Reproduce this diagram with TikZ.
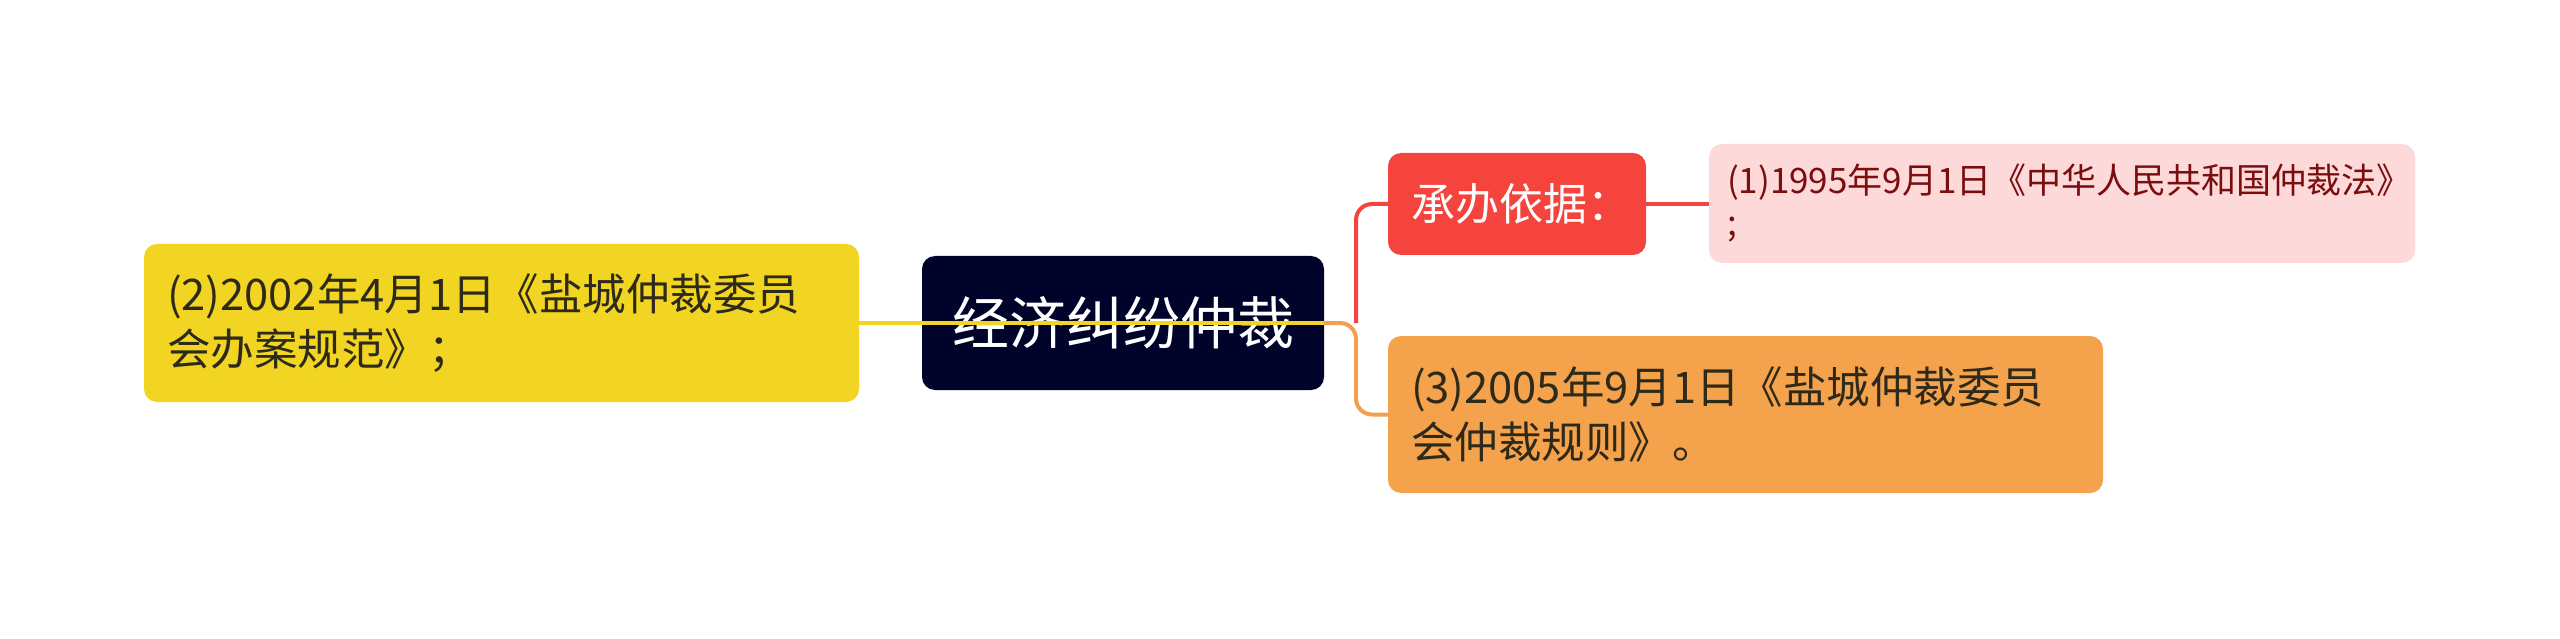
\documentclass[tikz,border=0pt]{standalone}
\usepackage{fontspec}
\setmainfont{Noto Sans CJK SC}
\definecolor{cyellow}{HTML}{F2D422}
\definecolor{cnavy}{HTML}{00032A}
\definecolor{cred}{HTML}{F5443E}
\definecolor{cpink}{HTML}{FDD9D9}
\definecolor{corange}{HTML}{F5A24C}
\definecolor{tdark}{HTML}{2E2A1A}
\definecolor{tpink}{HTML}{7A0E0E}
\definecolor{lorange}{HTML}{F0A050}
\begin{document}
\begin{tikzpicture}[x=1pt,y=-1pt,
  box/.style={rounded corners=13pt, inner ysep=0pt, anchor=center},
  conn/.style={line width=4pt}]
\useasboundingbox (0,0) rectangle (2560,639);
\node[box, fill=cyellow, text=tdark, text width=669pt, inner xsep=23pt, minimum height=158pt, align=left,
  font=\fontsize{43.5}{55}\selectfont] (yellow) at (501.5,323)
  {(2)2002年4月1日《盐城仲裁委员\\会办案规范》；};
\node[box, fill=cnavy, text=white, minimum width=402pt, minimum height=134pt, inner xsep=0pt,
  font=\fontsize{57}{60}\selectfont] (center) at (1123,323) {经济纠纷仲裁};
\node[box, fill=cred, text=white, text width=212pt, inner xsep=23pt, minimum height=102pt, align=left,
  font=\fontsize{44}{50}\selectfont] (basis) at (1517,204) {承办依据：};
\node[box, fill=cpink, text=tpink, text width=670pt, inner xsep=18pt, minimum height=119pt, align=left,
  font=\fontsize{35}{42}\selectfont] (pink) at (2062,203.5)
  {(1)1995年9月1日《中华人民共和国仲裁法》\\;};
\node[box, fill=corange, text=tdark, text width=669pt, inner xsep=23pt, minimum height=157pt, align=left,
  font=\fontsize{43.5}{55}\selectfont] (orange) at (1745.5,414.5)
  {(3)2005年9月1日《盐城仲裁委员\\会仲裁规则》。};
\coordinate (j) at (1356,323);
\draw[conn, lorange, rounded corners=16pt] (center.east) -- (j) |- (orange.west);
\draw[conn, cred, rounded corners=16pt] (j) |- (basis.west);
\draw[conn, cred] (basis.east) -- (pink.west |- basis.east);
\draw[conn, cyellow] (yellow.east) -- (center.east);
\end{tikzpicture}
\end{document}
